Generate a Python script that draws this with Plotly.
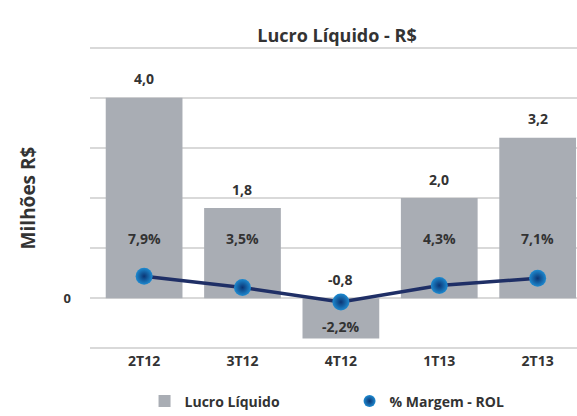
import plotly.graph_objects as go

quarters = ["2T12", "3T12", "4T12", "1T13", "2T13"]
lucro = [4.0, 1.8, -0.8, 2.0, 3.2]
margem = [7.9, 3.5, -2.2, 4.3, 7.1]

FONT = "Open Sans"
TXT = "#333333"
BAR = "#a9adb4"
GRID = "#d9d9d9"


def br(v, dec=1):
    return f"{v:.{dec}f}".replace(".", ",")


fig = go.Figure()

fig.add_trace(
    go.Bar(
        x=quarters,
        y=lucro,
        name="<b>Lucro Líquido</b>",
        marker=dict(color=BAR, line=dict(width=0)),
        width=0.78,
        hoverinfo="skip",
    )
)

fig.add_trace(
    go.Scatter(
        x=quarters,
        y=margem,
        yaxis="y2",
        mode="lines",
        line=dict(color="#1f2f66", width=3.5),
        showlegend=False,
        hoverinfo="skip",
    )
)

fig.add_trace(
    go.Scatter(
        x=quarters,
        y=margem,
        yaxis="y2",
        mode="markers",
        name="<b>% Margem - ROL</b>",
        marker=dict(
            size=17,
            color="#1e8ad0",
            gradient=dict(type="radial", color="#0b3574"),
            line=dict(width=0),
        ),
        hoverinfo="skip",
    )
)

# value labels
for q, v in zip(quarters, lucro):
    fig.add_annotation(
        x=q, y=max(v, 0), yref="y", text=f"<b>{br(v)}</b>",
        showarrow=False, yshift=19,
        font=dict(family=FONT, size=14, color=TXT),
    )

for q, m in zip(quarters, margem):
    fig.add_annotation(
        x=q, y=1.2 if m > 0 else -0.56, yref="y", text=f"<b>{br(m)}%</b>",
        showarrow=False,
        font=dict(family=FONT, size=14, color=TXT),
    )

fig.update_layout(
    width=577,
    height=416,
    margin=dict(l=90, r=0, t=45, b=65, autoexpand=False),
    paper_bgcolor="white",
    plot_bgcolor="white",
    font=dict(family=FONT, color=TXT),
    title=dict(
        text="<b>Lucro Líquido - R$</b>",
        x=(337 / 577), xanchor="center", y=0.913, yanchor="middle",
        font=dict(family=FONT, size=18, color=TXT),
    ),
    xaxis=dict(
        range=[-0.55, 4.4],
        showgrid=False,
        showline=False,
        zeroline=False,
        ticks="",
        tickfont=dict(family=FONT, size=14, color=TXT),
        tickprefix="<b>", ticksuffix="</b>",
    ),
    yaxis=dict(
        range=[-1.05, 5.05],
        tickmode="array",
        tickvals=[-1, 0, 1, 2, 3, 4, 5],
        ticktext=["", "<b>0</b>", "", "", "", "", ""],
        showgrid=True,
        gridcolor=GRID,
        gridwidth=1.5,
        zeroline=False,
        showline=False,
        ticks="",
        ticklabelstandoff=18,
        tickfont=dict(family=FONT, size=13, color=TXT),
        title=dict(
            text="<b>Milhões R$</b>",
            font=dict(family=FONT, size=19, color=TXT),
            standoff=22,
        ),
    ),
    yaxis2=dict(
        range=[-21.4, 98.6],
        overlaying="y",
        side="right",
        visible=False,
        showgrid=False,
    ),
    showlegend=True,
    legend=dict(
        orientation="h",
        x=0.112, xanchor="left",
        y=-0.165, yanchor="middle",
        entrywidth=160,
        font=dict(family=FONT, size=14, color=TXT),
        itemsizing="constant",
    ),
    bargap=0.2,
)

fig.write_html(
    "out.html",
    config={"displayModeBar": False},
    post_script="document.body.style.margin='0';",
)
